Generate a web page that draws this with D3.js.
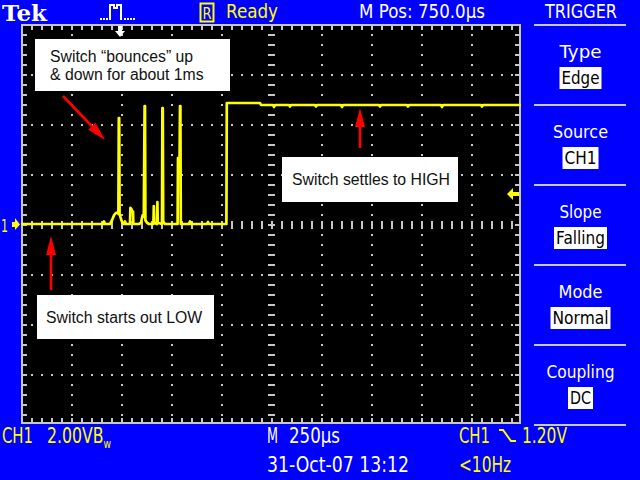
<!DOCTYPE html>
<html><head><meta charset="utf-8">
<script src="https://cdn.jsdelivr.net/npm/d3@7"></script>
<style>html,body{margin:0;padding:0;background:#0000ff;overflow:hidden}</style>
</head><body>
<svg id="c" width="640" height="480"></svg>
<script>
// ---------- data ----------
const timePerDivUs = 250;
const voltsPerDiv = 2;
const triggerTimeUs = 495;
const triggerLevelV = 1.2;
// trace samples: time from left screen edge (µs) and voltage (V)
const traceTime = [0,410,415,420,445,455,465,475,482,487,489,491,493,500,507,515,520,525,545,547,552,556,560,562,590,600,608,614,618,620,622,630,640,662,664,666,680,682,684,705,707,709,711,720,783,785,793,795,797,799,840,845,850,930,935,940,1027,1029,1195,1200,1260,1265,1270,1340,1345,1350,1470,1475,1480,1600,1605,1610,1790,1795,1800,1930,1935,1940,2100,2105,2110,2300,2305,2310,2500];
const traceVolts = [0,0,0.1,0,0,0.15,0.35,0.45,0.45,0.4,4.24,4.24,0.4,0.2,0.05,0,0.1,0,0,0.65,0.6,0.5,0.5,0,0,0.05,0.35,0.3,4.72,4.72,0.15,0.05,0,0,0.72,0.05,0,0.88,0.05,0,4.64,4.64,0.1,0,0,2.64,2.64,4.72,4.72,0,0,0.1,0,0,0.08,0,0,4.84,4.84,4.76,4.76,4.68,4.76,4.76,4.7,4.76,4.76,4.7,4.76,4.76,4.68,4.76,4.76,4.7,4.76,4.76,4.7,4.76,4.76,4.68,4.76,4.76,4.7,4.76,4.76];
const menuTitles = ["Type","Source","Slope","Mode","Coupling"];
const menuValues = ["Edge","CH1","Falling","Normal","DC"];
const noteBounce = ["Switch \u201cbounces\u201d up","& down for about 1ms"];
const noteLow = ["Switch starts out LOW"];
const noteHigh = ["Switch settles to HIGH"];
// arrow endpoints in data units [tailT, tailV, tipT, tipV]
const arrowBounce = [210, 5.12, 420, 3.36];
const arrowLow = [150, -2.64, 150, -0.48];
const arrowHigh = [1695, 3.04, 1695, 4.64];

// ---------- drawing ----------
const svg = d3.select("#c");
const FONT = "'DejaVu Sans', 'Liberation Sans', sans-serif";
const AFONT = "'Liberation Sans', Arial, sans-serif";
svg.append("rect").attr("width",640).attr("height",480).attr("fill","#0000ff");

const x = d3.scaleLinear().domain([0, 10*timePerDivUs]).range([21, 521]);
const y = d3.scaleLinear().domain([-4*voltsPerDiv, 4*voltsPerDiv]).range([424, 24]);

svg.append("rect").attr("x",21).attr("y",24).attr("width",500).attr("height",400).attr("fill","#000");

const GR = "#c6c6c6";
const g = svg.append("g").attr("fill", GR);
const tMajor = d3.range(0, 10*timePerDivUs + 1, timePerDivUs);
const vMajor = d3.range(-4*voltsPerDiv, 4*voltsPerDiv + 0.001, voltsPerDiv);
const tMinor = d3.range(0, 10*timePerDivUs + 1, timePerDivUs/5);
const vMinor = d3.range(-4*voltsPerDiv, 4*voltsPerDiv + 0.001, voltsPerDiv/5);
const tMid = 5*timePerDivUs;

// dotted vertical division lines
tMajor.slice(1,-1).filter(t => t !== tMid).forEach(t => {
  vMinor.slice(1,-1).forEach(v => g.append("rect").attr("x", x(t)).attr("y", y(v)).attr("width",2).attr("height",2));
});
// dotted horizontal division lines
vMajor.slice(1,-1).filter(v => Math.abs(v) > 1e-9).forEach(v => {
  tMinor.slice(1,-1).forEach(t => g.append("rect").attr("x", x(t)).attr("y", y(v)).attr("width",2).attr("height",2));
});
// center crosshair ticks
tMinor.slice(1,-1).forEach(t => g.append("rect").attr("x", x(t)).attr("y", y(0)-3).attr("width",2).attr("height",8));
vMinor.slice(1,-1).forEach(v => g.append("rect").attr("x", x(tMid)-3).attr("y", y(v)).attr("width",7).attr("height",2));
// border
g.append("rect").attr("x",21).attr("y",24).attr("width",500).attr("height",2);
g.append("rect").attr("x",21).attr("y",422).attr("width",500).attr("height",2);
g.append("rect").attr("x",21).attr("y",24).attr("width",2).attr("height",400);
g.append("rect").attr("x",519).attr("y",24).attr("width",2).attr("height",400);
tMinor.slice(1,-1).forEach(t => {
  g.append("rect").attr("x", x(t)).attr("y", 24).attr("width",2).attr("height",6);
  g.append("rect").attr("x", x(t)).attr("y", 418).attr("width",2).attr("height",6);
});
vMinor.slice(1,-1).forEach(v => {
  g.append("rect").attr("x", 21).attr("y", y(v)).attr("width",6).attr("height",2);
  g.append("rect").attr("x", 515).attr("y", y(v)).attr("width",6).attr("height",2);
});

// trace
const pts = traceTime.map((t,i) => ({t, v: traceVolts[i]}));
const line = d3.line().x(d => x(d.t)).y(d => y(d.v));
svg.append("path").datum(pts).attr("d", line).attr("fill","none")
  .attr("stroke","#ffff00").attr("stroke-width",2.7).attr("stroke-linejoin","round");

function T(s, px, py, size, fill, len, anchor, family, weight) {
  const el = svg.append("text").attr("x",px).attr("y",py).attr("font-size",size)
    .attr("fill",fill).attr("font-family", family || FONT).text(s);
  if (anchor) el.attr("text-anchor", anchor);
  if (weight) el.attr("font-weight", weight);
  if (len) el.attr("textLength", len).attr("lengthAdjust","spacingAndGlyphs");
  return el;
}
// ground marker "1"
const gy = y(0);
T("1", 1, gy+8, 17, "#ffff00", 7);
svg.append("polygon").attr("fill","#ffff00")
  .attr("points", [[12,gy-2],[15,gy-2],[15,gy-6],[20,gy+0.5],[15,gy+6],[15,gy+3],[12,gy+3]].map(p=>p.join(",")).join(" "));

// trigger level marker (right)
const ty = y(triggerLevelV);
svg.append("polygon").attr("fill","#ffff00")
  .attr("points", [[507,ty],[513,ty-6],[513,ty-2],[519,ty-2],[519,ty+2],[513,ty+2],[513,ty+6]].map(p=>p.join(",")).join(" "));

// trigger position marker (top)
const tx = x(triggerTimeUs);
svg.append("rect").attr("x",tx-2).attr("y",26).attr("width",4).attr("height",5).attr("fill","#fff");
svg.append("polygon").attr("fill","#fff").attr("points", `${tx-5},31 ${tx+5},31 ${tx},37`);

// top bar
T("Tek", 2, 21, 22, "#fff", 45, null, "'DejaVu Serif', 'Liberation Serif', serif", "bold");
svg.append("path").attr("d","M110,20 V5 H114 V8 H117 V5 H121 V20").attr("fill","none").attr("stroke","#fff").attr("stroke-width",2);
[100,103,106].forEach(px => svg.append("rect").attr("x",px).attr("y",18).attr("width",2).attr("height",2).attr("fill","#fff"));
[124,127,130,133].forEach(px => svg.append("rect").attr("x",px).attr("y",18).attr("width",2).attr("height",2).attr("fill","#fff"));
svg.append("rect").attr("x",200.5).attr("y",3.5).attr("width",13).attr("height",18).attr("fill","none").attr("stroke","#ffff00").attr("stroke-width",2);
T("R", 202.5, 18.5, 16, "#ffff00", 9);
T("Ready", 226, 18, 19, "#ffff00", 52);
T("M Pos: 750.0\u00b5s", 359, 18, 19, "#fff", 126);
T("TRIGGER", 545, 17.5, 19, "#fff", 72);

// right menu
const titleW = [42,55,42,44,68], valueW = [42,36,53,60,25];
const SEP = "#c8c8c8";
[25,105,185,265,345,425].forEach(sy => svg.append("rect").attr("x",534).attr("y",sy-1).attr("width",92).attr("height",2).attr("fill",SEP));
menuTitles.forEach((s,i) => {
  const top = 25 + 80*i;
  T(s, 580.5, top+33, 18, "#fff", titleW[i], "middle");
  svg.append("rect").attr("x", 580.5 - valueW[i]/2).attr("y", top+42).attr("width", valueW[i]).attr("height", 22).attr("fill","#fff");
  T(menuValues[i], 580.5, top+59, 18, "#000", valueW[i]-4, "middle");
});

// bottom readouts
T("CH1", 2, 443, 20.5, "#ffff00", 31);
const vt = svg.append("text").attr("font-family", FONT).attr("fill","#ffff00")
  .attr("x",47).attr("y",443).attr("font-size",20.5)
  .attr("textLength",64).attr("lengthAdjust","spacingAndGlyphs");
vt.append("tspan").text("2.00VB");
vt.append("tspan").attr("font-size",12).attr("dy",5).text("w");
T("M", 267, 443, 20.5, "#fff", 11);
T("250\u00b5s", 289, 443, 20.5, "#fff", 51);
T("31-Oct-07 13:12", 267, 472, 20.5, "#fff", 142);
T("CH1", 459, 443, 20.5, "#ffff00", 31);
svg.append("path").attr("d","M499,430 H503 L511,441 H516").attr("fill","none").attr("stroke","#ffff00").attr("stroke-width",2);
T("1.20V", 522, 443, 20.5, "#ffff00", 45);
T("<10Hz", 459, 472, 20.5, "#ffff00", 52);

// annotations
function box(bx, by, bw, bh, lines, tx0, baselines) {
  svg.append("rect").attr("x",bx).attr("y",by).attr("width",bw).attr("height",bh).attr("fill","#fff");
  lines.forEach((s,i) => T(s, tx0, baselines[i], 15.8, "#111", null, null, AFONT));
}
box(35, 39, 195, 52, noteBounce, 50, [62, 80]);
box(37, 295, 177, 44, noteLow, 46, [323]);
box(282, 157, 176, 45, noteHigh, 292, [185]);

function arrow(a) {
  const x0 = x(a[0]), y0 = y(a[1]), x1 = x(a[2]), y1 = y(a[3]);
  const dx = x1-x0, dy = y1-y0, L = Math.hypot(dx,dy), ux = dx/L, uy = dy/L;
  const hl = 19, hw = 5;
  const bx = x1 - ux*hl, by = y1 - uy*hl;
  svg.append("line").attr("x1",x0).attr("y1",y0).attr("x2",bx).attr("y2",by).attr("stroke","#f00").attr("stroke-width",2.6);
  svg.append("polygon").attr("fill","#f00")
    .attr("points", `${x1},${y1} ${bx - uy*hw},${by + ux*hw} ${bx + uy*hw},${by - ux*hw}`);
}
arrow(arrowBounce); arrow(arrowLow); arrow(arrowHigh);
</script>
</body></html>
